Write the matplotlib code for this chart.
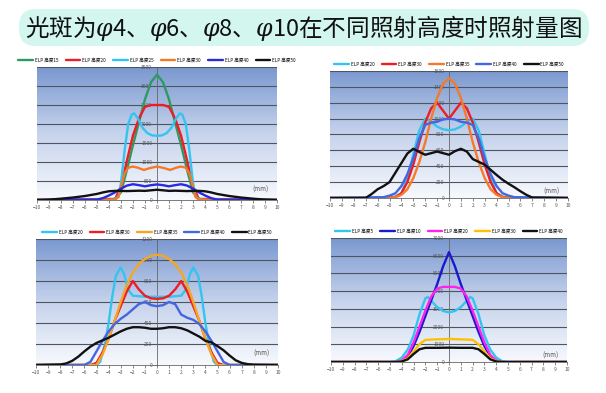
import matplotlib
matplotlib.use('Agg')
import matplotlib.pyplot as plt
from matplotlib.patches import FancyBboxPatch
from matplotlib.colors import LinearSegmentedColormap
import numpy as np

plt.rcParams['font.family'] = ['Noto Sans CJK SC', 'DejaVu Sans']
plt.rcParams['mathtext.fontset'] = 'dejavuserif'

TITLE = '光斑为$\\varphi$4、$\\varphi$6、$\\varphi$8、$\\varphi$10在不同照射高度时照射量图'
x_ticks = list(range(-10, 11))

# ---- 左上 ----
tl_labels = ['ELP 高度15', 'ELP 高度20', 'ELP 高度25', 'ELP 高度30', 'ELP 高度40', 'ELP 高度50']
tl_colors = ['#2e9960', '#ee1c24', '#33c4f0', '#f47a2a', '#2a2ae0', '#111111']
tl_x_main = [-10, -3.5, -3, -2.5, -2, -1.5, -1, -0.5, 0, 0.5, 1, 1.5, 2, 2.5, 3, 3.5, 10]
tl_green = [0, 30, 200, 800, 1450, 2050, 2650, 3100, 3300, 3100, 2650, 2050, 1450, 800, 200, 30, 0]
tl_red = [0, 20, 350, 1050, 1700, 2150, 2450, 2500, 2500, 2500, 2450, 2150, 1700, 1050, 350, 20, 0]
tl_x_cyan = [-10, -4, -3.5, -3.2, -3, -2.7, -2.4, -2.1, -1.9, -1.6, -1.2, -0.8, -0.4, 0,
             0.4, 0.8, 1.2, 1.6, 1.9, 2.1, 2.4, 2.7, 3, 3.2, 3.5, 4, 10]
tl_cyan = [0, 0, 20, 100, 450, 1300, 2000, 2250, 2280, 2150, 1900, 1760, 1700, 1690,
           1700, 1760, 1900, 2150, 2280, 2250, 2000, 1300, 450, 100, 20, 0, 0]
tl_x_orange = [-10, -3.5, -3.2, -3, -2.7, -2.4, -2, -1.6, -1.1, -0.6, 0, 0.6, 1.1, 1.6, 2, 2.4, 2.7, 3, 3.2, 3.5, 10]
tl_orange = [0, 10, 80, 350, 700, 850, 880, 850, 790, 840, 880, 840, 790, 850, 880, 850, 700, 350, 80, 10, 0]
tl_x_blue = [-10, -5, -4.5, -4, -3.5, -3, -2.5, -2, -1.5, -1, -0.5, 0, 0.5, 1, 1.5, 2, 2.5, 3, 3.5, 4, 4.5, 5, 10]
tl_blue = [0, 10, 50, 120, 200, 300, 380, 415, 390, 360, 390, 410, 390, 360, 390, 415, 380, 300, 200, 120, 50, 10, 0]
tl_x_black = [-10, -9, -8, -7, -6, -5, -4.5, -4, -3.5, -3, -2.5, -2, -1.5, -1, -0.5, 0,
              0.5, 1, 1.5, 2, 2.5, 3, 3.5, 4, 4.5, 5, 6, 7, 8, 9, 10]
tl_black = [0, 10, 35, 65, 105, 160, 200, 230, 240, 240, 235, 240, 245, 240, 255, 270,
            255, 240, 245, 240, 235, 240, 240, 230, 200, 160, 105, 65, 35, 10, 0]

# ---- 右上 ----
tr_labels = ['ELP 高度20', 'ELP 高度30', 'ELP 高度35', 'ELP 高度40', 'ELP 高度50']
tr_colors = ['#33c4f0', '#ee1c24', '#f47a2a', '#4466e0', '#111111']
tr_x = [-10, -5, -4.5, -4, -3.5, -3, -2.5, -2, -1.5, -1, -0.5, 0, 0.5, 1, 1.5, 2, 2.5, 3, 3.5, 4, 4.5, 5, 10]
tr_cyan = [0, 5, 20, 60, 250, 550, 850, 1000, 960, 900, 865, 855, 865, 900, 960, 1000, 850, 550, 250, 60, 20, 5, 0]
tr_red = [0, 0, 10, 60, 200, 420, 700, 950, 1130, 1200, 1100, 1000, 1100, 1200, 1130, 950, 700, 420, 200, 60, 10, 0, 0]
tr_orange = [0, 0, 10, 40, 110, 250, 450, 700, 1000, 1260, 1440, 1510, 1440, 1260, 1000, 700, 450, 250, 110, 40, 10, 0, 0]
tr_x_blue = [-10, -5.5, -5, -4.5, -4, -3.5, -3, -2.5, -2, -1.5, -1, -0.5, 0, 0.5, 1, 1.5, 2, 2.5, 3, 3.5, 4, 4.5, 5, 5.5, 10]
tr_blue = [0, 10, 30, 60, 150, 300, 500, 750, 920, 950, 960, 990, 1000, 990, 960, 950, 920, 750, 500, 300, 150, 60, 30, 10, 0]
tr_x_black = [-10, -7, -6.5, -6, -5.5, -5, -4.5, -4, -3.5, -3, -2.5, -2, -1.5, -1, -0.5, 0, 0.5, 1,
              1.5, 2, 2.5, 3, 3.5, 4, 4.5, 5, 5.5, 6, 6.5, 7, 10]
tr_black = [0, 0, 50, 110, 150, 200, 320, 440, 560, 620, 580, 545, 565, 585, 565, 545, 590, 620,
            585, 490, 455, 420, 355, 290, 230, 180, 135, 85, 40, 5, 0]

# ---- 左下 ----
bl_labels = ['ELP 高度20', 'ELP 高度30', 'ELP 高度35', 'ELP 高度40', 'ELP 高度50']
bl_colors = ['#33c4f0', '#ee1c24', '#f5a623', '#4466e0', '#111111']
bl_x_cyan = [-10, -5, -4.7, -4.3, -4, -3.7, -3.4, -3, -2.7, -2.4, -2, -1, 0, 1, 2, 2.4, 2.7, 3, 3.4, 3.7, 4, 4.3, 4.7, 5, 10]
bl_cyan = [0, 0, 30, 200, 400, 650, 850, 930, 860, 720, 660, 650, 650, 650, 660, 720, 860, 930, 850, 650, 400, 200, 30, 0, 0]
bl_x_red = [-10, -5.5, -5, -4.5, -4, -3.5, -3, -2.5, -2, -1.5, -1, -0.5, 0, 0.5, 1, 1.5, 2, 2.5, 3, 3.5, 4, 4.5, 5, 5.5, 10]
bl_red = [0, 0, 20, 120, 250, 420, 560, 700, 800, 720, 660, 635, 630, 635, 660, 720, 800, 700, 560, 420, 250, 120, 20, 0, 0]
bl_x_orange = [-10, -5, -4.5, -4, -3.5, -3, -2.5, -2, -1.5, -1, -0.5, 0, 0.5, 1, 1.5, 2, 2.5, 3, 3.5, 4, 4.5, 5, 10]
bl_orange = [0, 0, 100, 250, 420, 600, 760, 880, 960, 1010, 1040, 1050, 1040, 1010, 960, 880, 760, 600, 420, 250, 100, 0, 0]
bl_x_blue = [-10, -6, -5.5, -5, -4.5, -4, -3.5, -3, -2.5, -2, -1.5, -1, -0.5, 0, 0.5, 1, 1.5, 2, 2.5, 3, 3.5, 4, 4.5, 5, 5.5, 6, 10]
bl_blue = [0, 0, 30, 130, 230, 320, 390, 440, 480, 530, 580, 600, 570, 560, 570, 600, 580, 480, 450, 430, 390, 320, 230, 130, 30, 0, 0]
bl_x_black = [-10, -8, -7.5, -7, -6.5, -6, -5.5, -5, -4.5, -4, -3.5, -3, -2.5, -2, -1.5, -1, -0.5, 0,
              0.5, 1, 1.5, 2, 2.5, 3, 3.5, 4, 4.5, 5, 5.5, 6, 6.5, 7, 7.5, 8, 10]
bl_black = [0, 5, 15, 40, 80, 130, 175, 210, 235, 260, 290, 320, 345, 360, 360, 355, 345, 345,
            350, 360, 360, 350, 330, 300, 270, 230, 215, 180, 140, 90, 45, 20, 8, 3, 0]

# ---- 右下 ----
br_labels = ['ELP 高度5', 'ELP 高度10', 'ELP 高度20', 'ELP 高度30', 'ELP 高度40']
br_colors = ['#33c4f0', '#1a1acc', '#ff22ee', '#ffc000', '#111111']
br_x = [-10, -4.5, -4, -3.5, -3, -2.5, -2, -1.5, -1, -0.5, 0, 0.5, 1, 1.5, 2, 2.5, 3, 3.5, 4, 4.5, 10]
br_blue = [0, 0, 50, 300, 900, 1700, 2600, 3500, 4400, 5400, 6200, 5400, 4400, 3500, 2600, 1700, 900, 300, 50, 0, 0]
br_magenta = [0, 0, 80, 400, 1100, 2000, 2900, 3700, 4150, 4240, 4240, 4240, 4150, 3700, 2900, 2000, 1100, 400, 80, 0, 0]
br_x_cyan = [-10, -5, -4.5, -4, -3.5, -3, -2.5, -2, -1.8, -1.5, -1, -0.5, 0, 0.5, 1, 1.5, 1.8, 2, 2.5, 3, 3.5, 4, 4.5, 5, 10]
br_cyan = [0, 0, 50, 250, 700, 1500, 2700, 3600, 3670, 3450, 3100, 2880, 2800, 2880, 3100, 3450, 3670, 3600, 2700, 1500, 700, 250, 50, 0, 0]
br_x_flat = [-10, -4.5, -4, -3.5, -3, -2.5, -2, -1, 0, 1, 2, 2.5, 3, 3.5, 4, 4.5, 10]
br_yellow = [0, 0, 50, 200, 600, 1000, 1250, 1280, 1300, 1280, 1250, 1000, 600, 200, 50, 0, 0]
br_black = [0, 0, 30, 150, 450, 720, 800, 800, 810, 800, 800, 720, 450, 150, 30, 0, 0]

W, H = 606, 393
fig = plt.figure(figsize=(W / 100, H / 100), dpi=100)
fig.patch.set_facecolor('white')

# 标题背景
box = FancyBboxPatch((0.19, (H - 46) / 100), 5.70, 0.37,
                     boxstyle='round,pad=0,rounding_size=0.17',
                     transform=fig.dpi_scale_trans, facecolor='#d3f6ef', edgecolor='none')
fig.patches.append(box)
fig.text(0.5, 1 - 28 / H, TITLE, ha='center', va='center', fontsize=17, color='#111111',
         fontweight='medium')

bg_cmap = LinearSegmentedColormap.from_list('bg', ['#f7f9fd', '#c6d3ec', '#7a98d0'])


def panel(px, series, colors, labels, ymax, ystep, mm_y):
    x0, x1, yt, yb = px
    ax = fig.add_axes([x0 / W, 1 - yb / H, (x1 - x0) / W, (yb - yt) / H])
    grad = np.linspace(0, 1, 256).reshape(-1, 1)
    ax.imshow(grad, extent=[-10, 10, 0, ymax], origin='lower', aspect='auto', cmap=bg_cmap, zorder=0)
    for v in range(ystep, ymax + 1, ystep):
        ax.axhline(v, color='#4d5560', lw=0.8, zorder=1)
    for (xs, ys), c, lab in zip(series, colors, labels):
        ax.plot(xs, ys, color=c, lw=1.7, label=lab, zorder=3, solid_capstyle='round')
    ax.set_xlim(-10, 10)
    ax.set_ylim(0, ymax)
    ax.set_xticks(x_ticks)
    ax.set_yticks(list(range(0, ymax + 1, ystep)))
    for s in ['top', 'right']:
        ax.spines[s].set_visible(False)
    ax.spines['left'].set_position(('data', 0))
    ax.spines['left'].set_color('#666666')
    ax.spines['left'].set_linewidth(0.6)
    ax.spines['left'].set_zorder(2)
    ax.spines['bottom'].set_color('#666666')
    ax.spines['bottom'].set_linewidth(0.6)
    ax.tick_params(axis='both', labelsize=3.5, colors='#555555', length=2, width=0.5, pad=1.5)
    ax.text(9.3, mm_y * ymax, '(mm)', fontsize=4.5, color='#555555', ha='right', va='center', zorder=4)
    ax.legend(loc='lower center', bbox_to_anchor=(0.5, 1.0), ncol=len(labels), fontsize=3.3,
              frameon=False, handlelength=3.2, columnspacing=1.6, handletextpad=0.4, borderaxespad=0.5)
    return ax


panel((37, 277, 67, 200),
      [(tl_x_main, tl_green), (tl_x_main, tl_red), (tl_x_cyan, tl_cyan),
       (tl_x_orange, tl_orange), (tl_x_blue, tl_blue), (tl_x_black, tl_black)],
      tl_colors, tl_labels, 3500, 500, 0.08)

panel((330, 568, 71, 198),
      [(tr_x, tr_cyan), (tr_x, tr_red), (tr_x, tr_orange), (tr_x_blue, tr_blue), (tr_x_black, tr_black)],
      tr_colors, tr_labels, 1600, 200, 0.05)

panel((36, 278, 239, 365),
      [(bl_x_cyan, bl_cyan), (bl_x_red, bl_red), (bl_x_orange, bl_orange),
       (bl_x_blue, bl_blue), (bl_x_black, bl_black)],
      bl_colors, bl_labels, 1200, 200, 0.09)

panel((331, 567, 238, 362),
      [(br_x_cyan, br_cyan), (br_x, br_blue), (br_x, br_magenta), (br_x_flat, br_yellow), (br_x_flat, br_black)],
      br_colors, br_labels, 7000, 1000, 0.05)

fig.savefig('out.png', dpi=100)
